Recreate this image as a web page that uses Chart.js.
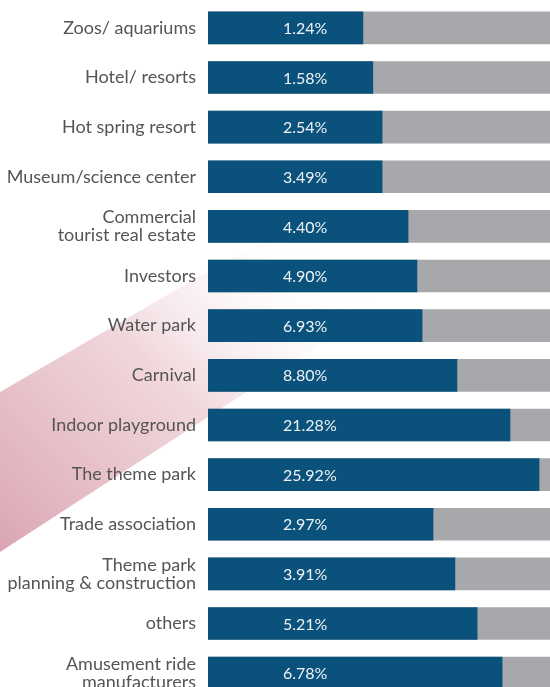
<!DOCTYPE html>
<html>
<head>
<meta charset="utf-8">
<script src="https://cdn.jsdelivr.net/npm/chart.js@4"></script>
<style>
  html, body { margin: 0; padding: 0; background: #fff; overflow: hidden; }
  #wrap { position: relative; width: 550px; height: 700px; }
</style>
</head>
<body>
<div id="wrap"><canvas id="c"></canvas></div>
<script>
const categories = [
  "Zoos/ aquariums",
  "Hotel/ resorts",
  "Hot spring resort",
  "Museum/science center",
  ["Commercial", "tourist real estate"],
  "Investors",
  "Water park",
  "Carnival",
  "Indoor playground",
  "The theme park",
  "Trade association",
  ["Theme park", "planning & construction"],
  "others",
  ["Amusement ride", "manufacturers"]
];
const shareValues = [1.24, 1.58, 2.54, 3.49, 4.40, 4.90, 6.93, 8.80, 21.28, 25.92, 2.97, 3.91, 5.21, 6.78];
// displayed bar length as share of the grey track (0-100)
const barLength = [45.3, 48.2, 50.9, 50.9, 58.5, 61.1, 62.6, 72.8, 88.3, 96.8, 65.8, 72.2, 78.7, 86.0];
const trackLength = categories.map(() => 100);

const backdrop = {
  id: 'backdrop',
  beforeDraw(chart) {
    const ctx = chart.ctx;
    ctx.save();
    const g = ctx.createLinearGradient(0, 560, 320, 250);
    g.addColorStop(0, 'rgba(218,164,178,1)');
    g.addColorStop(0.55, 'rgba(238,208,214,0.85)');
    g.addColorStop(1, 'rgba(255,255,255,0)');
    ctx.fillStyle = g;
    ctx.beginPath();
    ctx.moveTo(0, 392);
    ctx.lineTo(550, 73);
    ctx.lineTo(550, 195);
    ctx.lineTo(0, 552);
    ctx.closePath();
    ctx.fill();
    ctx.restore();
  }
};

const valueLabels = {
  id: 'valueLabels',
  afterDatasetsDraw(chart) {
    const ctx = chart.ctx;
    const meta = chart.getDatasetMeta(1);
    ctx.save();
    ctx.font = '16px Lato, "Open Sans", sans-serif';
    ctx.fillStyle = '#eef2f6';
    ctx.textAlign = 'left';
    ctx.textBaseline = 'middle';
    meta.data.forEach((bar, i) => {
      ctx.fillText(shareValues[i].toFixed(2) + '%', chart.chartArea.left + 75, bar.y + 1);
    });
    ctx.restore();
  }
};

new Chart(document.getElementById('c'), {
  type: 'bar',
  data: {
    labels: categories,
    datasets: [
      { data: trackLength, backgroundColor: '#a7a8ac', barThickness: 32, grouped: false, order: 2 },
      { data: barLength, backgroundColor: '#0a527c', barThickness: 32, grouped: false, order: 1 }
    ]
  },
  options: {
    indexAxis: 'y',
    responsive: true,
    maintainAspectRatio: false,
    animation: false,
    layout: { padding: { top: 3, bottom: 2, left: 0, right: 0 } },
    plugins: { legend: { display: false }, tooltip: { enabled: false } },
    scales: {
      x: { display: false, min: 0, max: 100 },
      y: {
        grid: { display: false, drawTicks: false },
        border: { display: false },
        ticks: {
          color: '#555555',
          padding: 12,
          font: { family: 'Lato, "Open Sans", sans-serif', size: 18, lineHeight: 1.0 }
        },
        afterFit(scale) {
          scale.width = 208;
          scale.paddingTop = 0;
          scale.paddingBottom = 0;
        }
      }
    }
  },
  plugins: [backdrop, valueLabels]
});
</script>
</body>
</html>
